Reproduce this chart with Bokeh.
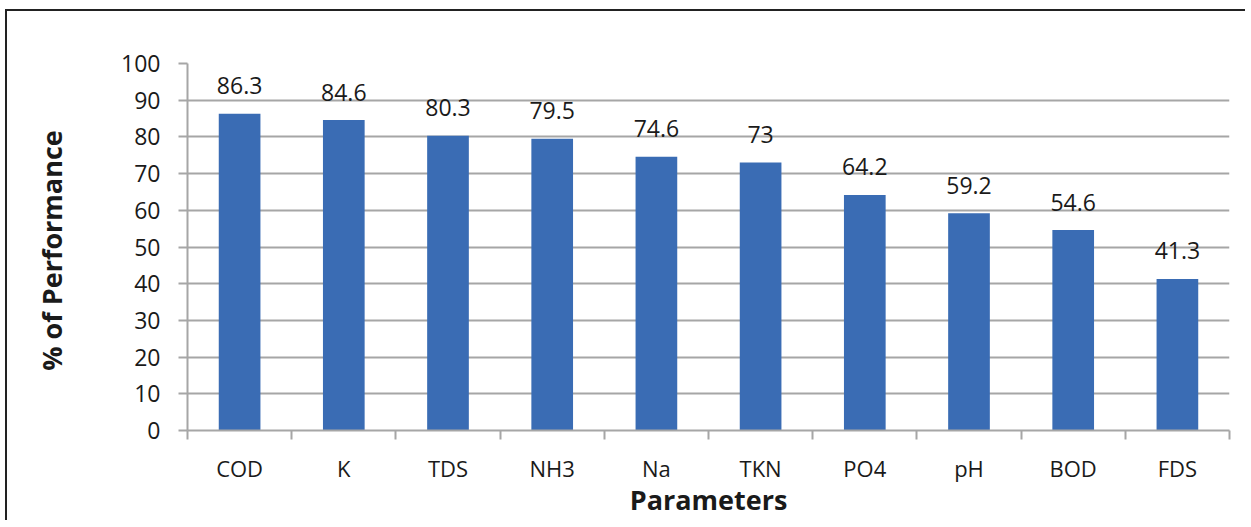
from bokeh.plotting import figure
from bokeh.models import ColumnDataSource, Range1d, FixedTicker
from bokeh.embed import file_html
from bokeh.resources import INLINE
from bokeh.core.properties import value

categories = ["COD", "K", "TDS", "NH3", "Na", "TKN", "PO4", "pH", "BOD", "FDS"]
values = [86.3, 84.6, 80.3, 79.5, 74.6, 73, 64.2, 59.2, 54.6, 41.3]
labels = ["86.3", "84.6", "80.3", "79.5", "74.6", "73", "64.2", "59.2", "54.6", "41.3"]
y_ticks = [0, 10, 20, 30, 40, 50, 60, 70, 80, 90, 100]

FONT = "Open Sans"
GRID = "#a6a6a6"
TXT = "#1a1a1a"

n = len(categories)
centers = [i + 0.5 for i in range(n)]
src = ColumnDataSource(dict(x=centers, cat=categories, val=values, lab=labels))

p = figure(width=1245, height=520, output_backend="svg",
           toolbar_location=None, min_border_left=187, min_border_right=16,
           min_border_top=63, min_border_bottom=90)
p.x_range = Range1d(0, n)
p.y_range = Range1d(0, 100)
p.outline_line_color = None
p.border_fill_color = None
p.styles = {
    "background": "linear-gradient(#222222, #222222) 5px 9px / 100% 2px no-repeat, "
                  "linear-gradient(#222222, #222222) 5px 9px / 2px 100% no-repeat"
}

p.vbar(x="x", top="val", width=0.4, source=src, fill_color="#3a6cb4",
       line_color=None)
p.text(x="x", y="val", text="lab", source=src, text_align="center",
       text_baseline="alphabetic", y_offset=-28, text_font=value(FONT),
       text_font_size="23px", text_color=TXT)

p.xgrid.grid_line_color = None
p.ygrid.grid_line_color = GRID
p.ygrid.grid_line_width = 2
p.yaxis.ticker = FixedTicker(ticks=y_ticks)
p.xaxis.ticker = FixedTicker(ticks=centers, minor_ticks=list(range(n + 1)))
p.xaxis.major_label_overrides = {c: lab for c, lab in zip(centers, categories)}

for ax in (p.xaxis[0], p.yaxis[0]):
    ax.axis_line_color = GRID
    ax.axis_line_width = 2
    ax.major_tick_line_color = GRID
    ax.major_tick_line_width = 2
    ax.major_tick_out = 9
    ax.major_tick_in = 0
    ax.minor_tick_line_color = None
    ax.major_label_text_font = FONT
    ax.major_label_text_font_size = "23px"
    ax.major_label_text_color = TXT
    ax.axis_label_text_font = FONT
    ax.axis_label_text_font_size = "27px"
    ax.axis_label_text_font_style = "bold"
    ax.axis_label_text_color = TXT

xa = p.xaxis[0]
xa.major_tick_out = 0
xa.minor_tick_line_color = GRID
xa.minor_tick_line_width = 2
xa.minor_tick_out = 9
xa.minor_tick_in = 0
xa.major_label_text_font_size = "22px"
xa.major_label_standoff = 13
xa.axis_label = "Parameters"
xa.axis_label_standoff = -5

ya = p.yaxis[0]
ya.axis_label = "%  of Performance"
ya.major_label_standoff = 18
ya.axis_label_standoff = 48

open("out.html", "w").write(file_html(p, INLINE))
